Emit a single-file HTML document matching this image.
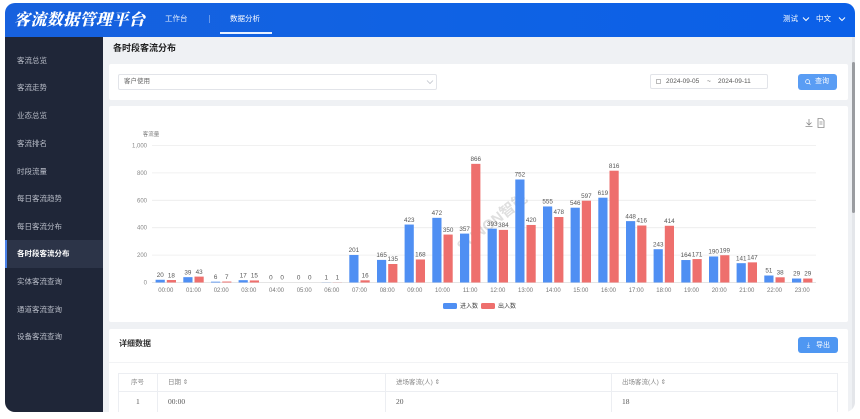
<!DOCTYPE html>
<html><head><meta charset="utf-8">
<style>
*{margin:0;padding:0;box-sizing:border-box}
html,body{width:860px;height:419px;overflow:hidden;background:#fff;font-family:"Liberation Sans","Noto Sans CJK SC",sans-serif}
.abs{position:absolute}
#frame{position:absolute;left:5px;top:3px;width:850px;height:409px;border-radius:10px;overflow:hidden;background:#eff1f4}
#hdr{position:absolute;left:0;top:0;width:850px;height:34px;background:linear-gradient(90deg,#1761de 0%,#0f62e4 55%,#0b60e8 100%)}
#side{position:absolute;left:0;top:34px;width:98px;height:375px;background:#1f2638}
.si{position:absolute;left:12px;font-size:7.5px;color:#b9bdc8;line-height:10px;white-space:nowrap}
.card{position:absolute;background:#fff;border-radius:2px}
.t7{font-size:7px;line-height:9px;white-space:nowrap}
</style></head><body>
<div id="frame">
  <div id="hdr">
    <div class="abs" style="left:9px;top:6px;font-family:'Noto Serif CJK SC',serif;font-weight:900;font-size:16px;line-height:20px;color:#fff;letter-spacing:0.4px;font-style:italic;white-space:nowrap">客流数据管理平台</div>
    <div class="abs t7" style="left:160px;top:11px;color:#e6eefc;font-size:7.5px">工作台</div>
    <div class="abs" style="left:204px;top:12px;width:1px;height:8px;background:rgba(255,255,255,0.35)"></div>
    <div class="abs t7" style="left:225px;top:11px;color:#fff;font-size:7.5px">数据分析</div>
    <div class="abs" style="left:215px;top:29px;width:52px;height:1.5px;background:#e8f0ff"></div>
    <div class="abs t7" style="left:778px;top:11px;color:#fff;font-size:7.5px">测试</div>
    <svg class="abs" style="left:797px;top:13px" width="8" height="6"><path d="M1 1.5 L4 4.5 L7 1.5" stroke="#fff" stroke-width="1" fill="none"/></svg>
    <div class="abs t7" style="left:811px;top:11px;color:#fff;font-size:7.5px">中文</div>
    <svg class="abs" style="left:833px;top:13px" width="8" height="6"><path d="M1 1.5 L4 4.5 L7 1.5" stroke="#fff" stroke-width="1" fill="none"/></svg>
  </div>
  <div id="side">
    <div class="abs" style="left:0;top:203px;width:98px;height:28px;background:#2c3448"></div>
    <div class="abs" style="left:0;top:203px;width:2px;height:28px;background:#4a80e6"></div>
    <div class="si" style="top:19px">客流总览</div>
    <div class="si" style="top:46px">客流走势</div>
    <div class="si" style="top:74px">业态总览</div>
    <div class="si" style="top:102px">客流排名</div>
    <div class="si" style="top:130px">时段流量</div>
    <div class="si" style="top:157px">每日客流趋势</div>
    <div class="si" style="top:185px">每日客流分布</div>
    <div class="si" style="top:212px;color:#fff;font-weight:bold">各时段客流分布</div>
    <div class="si" style="top:240px">实体客流查询</div>
    <div class="si" style="top:268px">通道客流查询</div>
    <div class="si" style="top:295px">设备客流查询</div>
  </div>
  <!-- scrollbar -->
  <div class="abs" style="left:847px;top:34px;width:3px;height:375px;background:#e4e6ea"></div>
  <div class="abs" style="left:847px;top:59px;width:3px;height:151px;background:#9a9ca0;border-radius:2px"></div>
</div>

<!-- content -->
<div class="abs" style="left:113px;top:42px;font-size:9px;line-height:12px;font-weight:bold;color:#222;white-space:nowrap">各时段客流分布</div>

<div class="card" style="left:109px;top:64px;width:739px;height:36px"></div>
<div class="abs" style="left:118px;top:74px;width:319px;height:16px;border:1px solid #e2e4e9;border-radius:2px"></div>
<div class="abs t7" style="left:124px;top:77px;color:#666;font-size:6.5px">客户使用</div>
<svg class="abs" style="left:426px;top:79px" width="8" height="6"><path d="M1 1.5 L4 4.5 L7 1.5" stroke="#c0c4cc" stroke-width="0.8" fill="none"/></svg>
<div class="abs" style="left:650px;top:74px;width:118px;height:15px;border:1px solid #e2e4e9;border-radius:2px"></div>
<div class="abs" style="left:656px;top:79px;width:5px;height:5px;border:0.8px solid #bbb"></div>
<div class="abs t7" style="left:666px;top:77px;color:#555;font-size:6.5px">2024-09-05</div>
<div class="abs t7" style="left:707px;top:77px;color:#555;font-size:6.5px">~</div>
<div class="abs t7" style="left:718px;top:77px;color:#555;font-size:6.5px">2024-09-11</div>
<div class="abs" style="left:798px;top:74px;width:39px;height:16px;background:#5a9df4;border-radius:3px"></div>
<svg class="abs" style="left:805px;top:79px" width="6" height="6"><circle cx="2.6" cy="2.6" r="2" stroke="#fff" stroke-width="0.7" fill="none"/><path d="M4 4 L5.5 5.5" stroke="#fff" stroke-width="0.7"/></svg>
<div class="abs t7" style="left:815px;top:77px;color:#fff;font-size:7px">查询</div>

<div class="card" style="left:109px;top:106px;width:739px;height:216px"></div>

<svg class="abs" style="left:0;top:0" width="860" height="419" font-family="Liberation Sans, Noto Sans CJK SC, sans-serif">
  <!-- toolbox -->
  <g stroke="#8a8a8a" stroke-width="0.8" fill="none">
    <path d="M809 119 L809 125 M806.5 122.5 L809 125 L811.5 122.5 M805.5 126.5 L812.5 126.5"/>
    <path d="M818 118.5 L822 118.5 L824 120.5 L824 127.5 L818 127.5 Z M819.5 122 L822.5 122 M819.5 124 L822.5 124"/>
  </g>
  <!-- grid -->
  <g stroke="#ececec" stroke-width="0.8">
    <line x1="152" x2="816" y1="145.5" y2="145.5"/>
    <line x1="152" x2="816" y1="172.9" y2="172.9"/>
    <line x1="152" x2="816" y1="200.3" y2="200.3"/>
    <line x1="152" x2="816" y1="227.7" y2="227.7"/>
    <line x1="152" x2="816" y1="255.1" y2="255.1"/>
  </g>
  <line x1="152" x2="816" y1="282.5" y2="282.5" stroke="#dcdcdc" stroke-width="0.8"/>
  <g font-size="6" fill="#888" text-anchor="end">
    <text x="147" y="147.5">1,000</text>
    <text x="147" y="174.9">800</text>
    <text x="147" y="202.3">600</text>
    <text x="147" y="229.7">400</text>
    <text x="147" y="257.1">200</text>
    <text x="147" y="284.5">0</text>
  </g>
  <text x="151" y="136" font-size="5.5" fill="#777" text-anchor="middle">客流量</text>
  <!-- watermark -->
  <text x="462" y="252" font-size="15" font-weight="bold" fill="rgba(140,140,140,0.28)" transform="rotate(-38 462 252)">SUNON智能</text>
  <!-- bars blue -->
  <g fill="#4f8ff3">
    <rect x="155.6" y="279.76" width="9.2" height="2.74"/>
    <rect x="183.3" y="277.16" width="9.2" height="5.34"/>
    <rect x="211.0" y="281.68" width="9.2" height="0.82"/>
    <rect x="238.6" y="280.17" width="9.2" height="2.33"/>
    <rect x="321.6" y="282.36" width="9.2" height="0.14"/>
    <rect x="349.3" y="254.96" width="9.2" height="27.54"/>
    <rect x="377.0" y="259.9" width="9.2" height="22.6"/>
    <rect x="404.6" y="224.55" width="9.2" height="57.95"/>
    <rect x="432.3" y="217.84" width="9.2" height="64.66"/>
    <rect x="460.0" y="233.6" width="9.2" height="48.9"/>
    <rect x="487.6" y="228.66" width="9.2" height="53.84"/>
    <rect x="515.3" y="179.48" width="9.2" height="103.02"/>
    <rect x="543.0" y="206.46" width="9.2" height="76.04"/>
    <rect x="570.6" y="207.7" width="9.2" height="74.8"/>
    <rect x="598.3" y="197.7" width="9.2" height="84.8"/>
    <rect x="626.0" y="221.12" width="9.2" height="61.38"/>
    <rect x="653.6" y="249.21" width="9.2" height="33.29"/>
    <rect x="681.3" y="260.03" width="9.2" height="22.47"/>
    <rect x="709.0" y="256.47" width="9.2" height="26.03"/>
    <rect x="736.6" y="263.18" width="9.2" height="19.32"/>
    <rect x="764.3" y="275.51" width="9.2" height="6.99"/>
    <rect x="792.0" y="278.53" width="9.2" height="3.97"/>
  </g>
  <!-- bars red -->
  <g fill="#ee6f6d">
    <rect x="166.8" y="280.03" width="9.2" height="2.47"/>
    <rect x="194.5" y="276.61" width="9.2" height="5.89"/>
    <rect x="222.2" y="281.54" width="9.2" height="0.96"/>
    <rect x="249.8" y="280.44" width="9.2" height="2.06"/>
    <rect x="332.8" y="282.36" width="9.2" height="0.14"/>
    <rect x="360.5" y="280.31" width="9.2" height="2.19"/>
    <rect x="388.2" y="264.0" width="9.2" height="18.5"/>
    <rect x="415.8" y="259.48" width="9.2" height="23.02"/>
    <rect x="443.5" y="234.55" width="9.2" height="47.95"/>
    <rect x="471.2" y="163.86" width="9.2" height="118.64"/>
    <rect x="498.8" y="229.9" width="9.2" height="52.6"/>
    <rect x="526.5" y="224.96" width="9.2" height="57.54"/>
    <rect x="554.2" y="217.01" width="9.2" height="65.49"/>
    <rect x="581.8" y="200.71" width="9.2" height="81.79"/>
    <rect x="609.5" y="170.71" width="9.2" height="111.79"/>
    <rect x="637.2" y="225.51" width="9.2" height="56.99"/>
    <rect x="664.8" y="225.78" width="9.2" height="56.72"/>
    <rect x="692.5" y="259.07" width="9.2" height="23.43"/>
    <rect x="720.2" y="255.24" width="9.2" height="27.26"/>
    <rect x="747.8" y="262.36" width="9.2" height="20.14"/>
    <rect x="775.5" y="277.29" width="9.2" height="5.21"/>
    <rect x="803.2" y="278.53" width="9.2" height="3.97"/>
  </g>
  <!-- value labels -->
  <g font-size="6.3" fill="#555" text-anchor="middle">
    <text x="160.2" y="277">20</text><text x="171.4" y="277.3">18</text>
    <text x="187.9" y="274.4">39</text><text x="199.1" y="273.8">43</text>
    <text x="215.6" y="279">6</text><text x="226.8" y="279">7</text>
    <text x="243.2" y="277.4">17</text><text x="254.4" y="277.6">15</text>
    <text x="270.9" y="279.5">0</text><text x="282.1" y="279.5">0</text>
    <text x="298.6" y="279.5">0</text><text x="309.8" y="279.5">0</text>
    <text x="326.2" y="279.5">1</text><text x="337.4" y="279.5">1</text>
    <text x="353.9" y="252.2">201</text><text x="365.1" y="277.5">16</text>
    <text x="381.6" y="257.1">165</text><text x="392.8" y="261.2">135</text>
    <text x="409.2" y="221.8">423</text><text x="420.4" y="256.7">168</text>
    <text x="436.9" y="215.1">472</text><text x="448.1" y="231.8">350</text>
    <text x="464.6" y="230.8">357</text><text x="475.8" y="161.1">866</text>
    <text x="492.2" y="225.9">393</text><text x="503.4" y="227.1">384</text>
    <text x="519.9" y="176.7">752</text><text x="531.1" y="222.2">420</text>
    <text x="547.6" y="203.7">555</text><text x="558.8" y="214.2">478</text>
    <text x="575.2" y="204.9">546</text><text x="586.4" y="197.9">597</text>
    <text x="602.9" y="194.9">619</text><text x="614.1" y="167.9">816</text>
    <text x="630.6" y="218.3">448</text><text x="641.8" y="222.7">416</text>
    <text x="658.2" y="246.4">243</text><text x="669.4" y="223">414</text>
    <text x="685.9" y="257.2">164</text><text x="697.1" y="256.3">171</text>
    <text x="713.6" y="253.7">190</text><text x="724.8" y="252.4">199</text>
    <text x="741.2" y="260.4">141</text><text x="752.4" y="259.6">147</text>
    <text x="768.9" y="272.7">51</text><text x="780.1" y="274.5">38</text>
    <text x="796.6" y="275.7">29</text><text x="807.8" y="275.7">29</text>
  </g>
  <!-- x labels -->
  <g font-size="6" fill="#777" text-anchor="middle">
    <text x="165.8" y="292">00:00</text><text x="193.5" y="292">01:00</text>
    <text x="221.2" y="292">02:00</text><text x="248.8" y="292">03:00</text>
    <text x="276.5" y="292">04:00</text><text x="304.2" y="292">05:00</text>
    <text x="331.8" y="292">06:00</text><text x="359.5" y="292">07:00</text>
    <text x="387.2" y="292">08:00</text><text x="414.8" y="292">09:00</text>
    <text x="442.5" y="292">10:00</text><text x="470.2" y="292">11:00</text>
    <text x="497.8" y="292">12:00</text><text x="525.5" y="292">13:00</text>
    <text x="553.2" y="292">14:00</text><text x="580.8" y="292">15:00</text>
    <text x="608.5" y="292">16:00</text><text x="636.2" y="292">17:00</text>
    <text x="663.8" y="292">18:00</text><text x="691.5" y="292">19:00</text>
    <text x="719.2" y="292">20:00</text><text x="746.8" y="292">21:00</text>
    <text x="774.5" y="292">22:00</text><text x="802.2" y="292">23:00</text>
  </g>
  <!-- legend -->
  <rect x="443" y="303" width="14" height="6" rx="1.5" fill="#4f8ff3"/>
  <text x="460" y="308.2" font-size="6" fill="#444">进入数</text>
  <rect x="481" y="303" width="14" height="6" rx="1.5" fill="#ee6f6d"/>
  <text x="498" y="308.2" font-size="6" fill="#444">出入数</text>
</svg>

<!-- detail card -->
<div class="card" style="left:109px;top:329px;width:739px;height:83px;border-radius:2px 2px 0 0"></div>
<div class="abs" style="left:119px;top:339px;font-size:8px;line-height:10px;font-weight:bold;color:#333;white-space:nowrap">详细数据</div>
<div class="abs" style="left:109px;top:362px;width:739px;height:1px;background:#f2f3f5"></div>
<div class="abs" style="left:798px;top:337px;width:40px;height:16px;background:#4f97f2;border-radius:3px"></div>
<div class="abs t7" style="left:807px;top:341px;color:#fff;font-size:6.5px">⤓</div>
<div class="abs t7" style="left:816px;top:341px;color:#fff;font-size:7px">导出</div>
<div class="abs" style="left:118px;top:373px;width:720px;height:39px;border:1px solid #eceef2;border-bottom:none"></div>
<div class="abs" style="left:118px;top:391px;width:720px;height:1px;background:#eceef2"></div>
<div class="abs" style="left:157px;top:373px;width:1px;height:39px;background:#eceef2"></div>
<div class="abs" style="left:385px;top:373px;width:1px;height:39px;background:#eceef2"></div>
<div class="abs" style="left:611px;top:373px;width:1px;height:39px;background:#eceef2"></div>
<div class="abs t7" style="left:131px;top:378px;color:#888;font-size:6.5px">序号</div>
<div class="abs t7" style="left:168px;top:378px;color:#888;font-size:6.5px">日期 ⇕</div>
<div class="abs t7" style="left:396px;top:378px;color:#888;font-size:6.5px">进场客流(人) ⇕</div>
<div class="abs t7" style="left:622px;top:378px;color:#888;font-size:6.5px">出场客流(人) ⇕</div>
<div class="abs t7" style="left:136px;top:397px;color:#555;font-size:7.5px;font-family:'Liberation Serif',serif">1</div>
<div class="abs t7" style="left:168px;top:397px;color:#555;font-size:7.5px;font-family:'Liberation Serif',serif">00:00</div>
<div class="abs t7" style="left:396px;top:397px;color:#555;font-size:7.5px;font-family:'Liberation Serif',serif">20</div>
<div class="abs t7" style="left:622px;top:397px;color:#555;font-size:7.5px;font-family:'Liberation Serif',serif">18</div>
</body></html>
